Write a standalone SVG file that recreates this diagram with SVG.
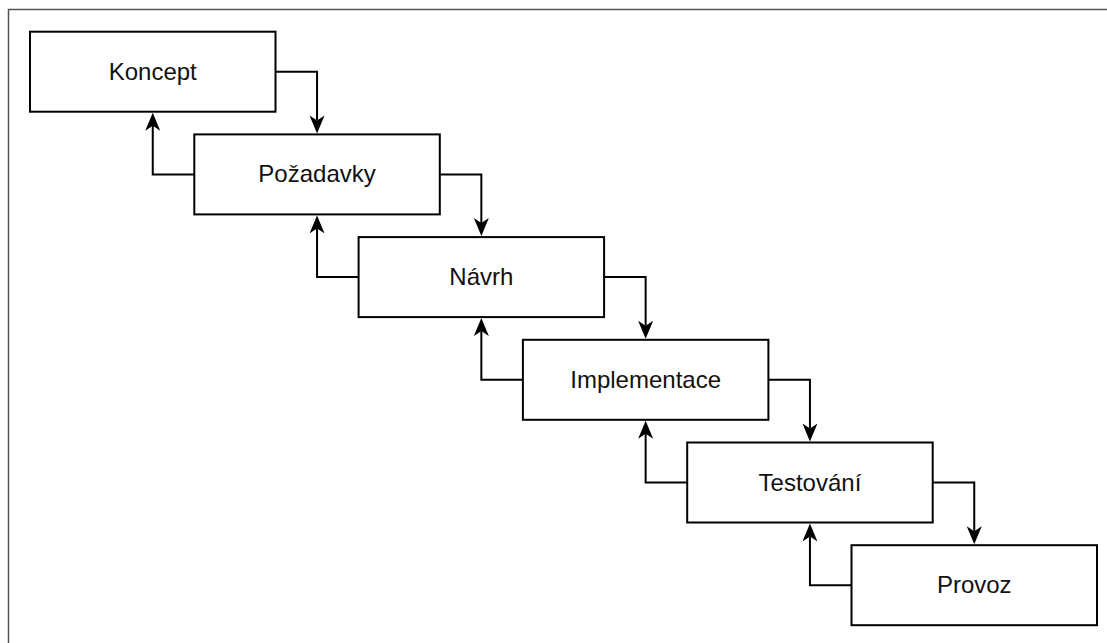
<svg xmlns="http://www.w3.org/2000/svg" width="1107" height="643" viewBox="0 0 1107 643">
<style>
.box{fill:#fff;stroke:#000;stroke-width:2}
.lbl{font-family:"Liberation Sans",Arial,sans-serif;font-size:24px;fill:#111;text-anchor:middle}
.edge{fill:none;stroke:#000;stroke-width:2}
</style>
<defs>
<marker id="arr" markerUnits="userSpaceOnUse" markerWidth="20" markerHeight="18" refX="5" refY="8" orient="auto">
<path d="M18,8 L0,0.5 L5,8 L0,15.5 Z" fill="#000"/>
</marker>
</defs>
<rect x="8.5" y="9.5" width="1300" height="800" fill="none" stroke="#555" stroke-width="1.5"/>
<g id="connectors">
<path class="edge" marker-end="url(#arr)" d="M275.5,71.7 H317.05 V120.4"/>
<path class="edge" marker-end="url(#arr)" d="M439.8,174.4 H481.35 V223.1"/>
<path class="edge" marker-end="url(#arr)" d="M604.1,277.1 H645.65 V325.8"/>
<path class="edge" marker-end="url(#arr)" d="M768.4,379.8 H809.95 V428.5"/>
<path class="edge" marker-end="url(#arr)" d="M932.7,482.5 H974.25 V531.2"/>
<path class="edge" marker-end="url(#arr)" d="M194.3,174.4 H152.75 V125.7"/>
<path class="edge" marker-end="url(#arr)" d="M358.6,277.1 H317.05 V228.4"/>
<path class="edge" marker-end="url(#arr)" d="M522.9,379.8 H481.35 V331.1"/>
<path class="edge" marker-end="url(#arr)" d="M687.2,482.5 H645.65 V433.8"/>
<path class="edge" marker-end="url(#arr)" d="M851.5,585.2 H809.95 V536.5"/>
</g>
<g id="koncept"><rect class="box" x="30" y="31.7" width="245.5" height="80"/><text class="lbl" x="152.75" y="79.7">Koncept</text></g>
<g id="pozadavky"><rect class="box" x="194.3" y="134.4" width="245.5" height="80"/><text class="lbl" x="317.05" y="182.4">Požadavky</text></g>
<g id="navrh"><rect class="box" x="358.6" y="237.1" width="245.5" height="80"/><text class="lbl" x="481.35" y="285.1">Návrh</text></g>
<g id="implementace"><rect class="box" x="522.9" y="339.8" width="245.5" height="80"/><text class="lbl" x="645.65" y="387.8">Implementace</text></g>
<g id="testovani"><rect class="box" x="687.2" y="442.5" width="245.5" height="80"/><text class="lbl" x="809.95" y="490.5">Testování</text></g>
<g id="provoz"><rect class="box" x="851.5" y="545.2" width="245.5" height="80"/><text class="lbl" x="974.25" y="593.2">Provoz</text></g>
</svg>
